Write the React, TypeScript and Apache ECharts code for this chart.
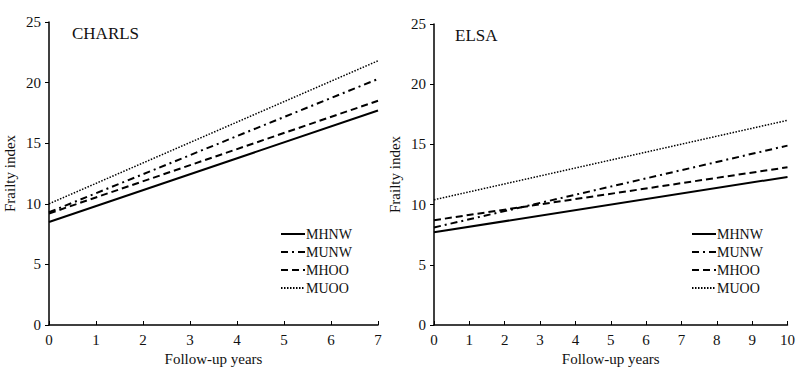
import React, { useEffect, useRef } from "react";
import * as echarts from "echarts";

const seriesNames = ["MHNW", "MUNW", "MHOO", "MUOO"];
const charlsYears = [0, 7];
const charlsMHNW = [8.5, 17.7];
const charlsMUNW = [9.3, 20.3];
const charlsMHOO = [9.2, 18.5];
const charlsMUOO = [10.0, 21.8];
const elsaYears = [0, 10];
const elsaMHNW = [7.7, 12.3];
const elsaMUNW = [8.1, 14.9];
const elsaMHOO = [8.7, 13.1];
const elsaMUOO = [10.4, 17.0];

const FONT = "'Liberation Serif', 'Times New Roman', serif";

const lineStyles: any[] = [
  { type: "solid", width: 2 },
  { type: [7, 4, 2, 4], width: 2 },
  { type: [7, 4], width: 2 },
  { type: [1.5, 1.5], width: 1.5 },
];

export default function App() {
  const ref = useRef<HTMLDivElement>(null);
  useEffect(() => {
    document.body.style.margin = "0";
    const chart = echarts.init(ref.current!, null, { renderer: "svg" });
    const pair = (xs: number[], ys: number[]) => xs.map((x, i) => [x, ys[i]]);
    const charls = [charlsMHNW, charlsMUNW, charlsMHOO, charlsMUOO];
    const elsa = [elsaMHNW, elsaMUNW, elsaMHOO, elsaMUOO];
    const axisCommon = {
      axisLine: { show: true, lineStyle: { color: "#000", width: 1.5 } },
      splitLine: { show: false },
      axisLabel: { color: "#111", fontFamily: FONT, fontSize: 15 },
      nameTextStyle: { color: "#111", fontFamily: FONT, fontSize: 15 },
    };
    const mkX = (gi: number, max: number) => ({
      type: "value",
      gridIndex: gi,
      min: 0,
      max,
      interval: 1,
      name: "Follow-up years",
      nameLocation: "middle",
      nameGap: 22,
      ...axisCommon,
      axisTick: { show: true, inside: true, length: 4, lineStyle: { color: "#000" } },
      axisLabel: { ...axisCommon.axisLabel, margin: 7 },
    });
    const mkY = (gi: number) => ({
      type: "value",
      gridIndex: gi,
      min: 0,
      max: 25,
      interval: 5,
      name: "Frailty index",
      nameLocation: "middle",
      nameGap: 32,
      ...axisCommon,
      axisTick: { show: true, inside: false, length: 4, lineStyle: { color: "#000" } },
      axisLabel: { ...axisCommon.axisLabel, margin: 8 },
    });
    const series: any[] = [];
    seriesNames.forEach((n, i) => {
      [0, 1].forEach((gi) => {
        series.push({
          type: "line",
          name: n,
          xAxisIndex: gi,
          yAxisIndex: gi,
          data: gi === 0 ? pair(charlsYears, charls[i]) : pair(elsaYears, elsa[i]),
          symbol: "none",
          lineStyle: { color: "#000", ...lineStyles[i] },
          itemStyle: { color: "#000" },
        });
      });
    });
    const legendCommon = {
      orient: "vertical",
      data: seriesNames,
      itemWidth: 24,
      itemHeight: 10,
      itemGap: 4,
      padding: 5,
      selectedMode: false,
      itemStyle: { opacity: 0 },
      textStyle: { color: "#111", fontFamily: FONT, fontSize: 14, padding: [0, 0, 0, -4] },
    };
    chart.setOption({
      animation: false,
      backgroundColor: "#fff",
      title: [
        { text: "CHARLS", left: 67, top: 20, textStyle: { fontFamily: FONT, fontSize: 17, fontWeight: "normal", color: "#111" } },
        { text: "ELSA", left: 450, top: 22, textStyle: { fontFamily: FONT, fontSize: 17, fontWeight: "normal", color: "#111" } },
      ],
      legend: [
        { ...legendCommon, left: 275, top: 222 },
        { ...legendCommon, left: 686, top: 222 },
      ],
      grid: [
        { left: 49, top: 22, width: 329, height: 303 },
        { left: 434, top: 24, width: 357, height: 301 },
      ],
      xAxis: [mkX(0, 7), mkX(1, 10)],
      yAxis: [mkY(0), mkY(1)],
      series,
    });
    return () => chart.dispose();
  }, []);
  return <div ref={ref} style={{ width: 798, height: 378 }} />;
}
